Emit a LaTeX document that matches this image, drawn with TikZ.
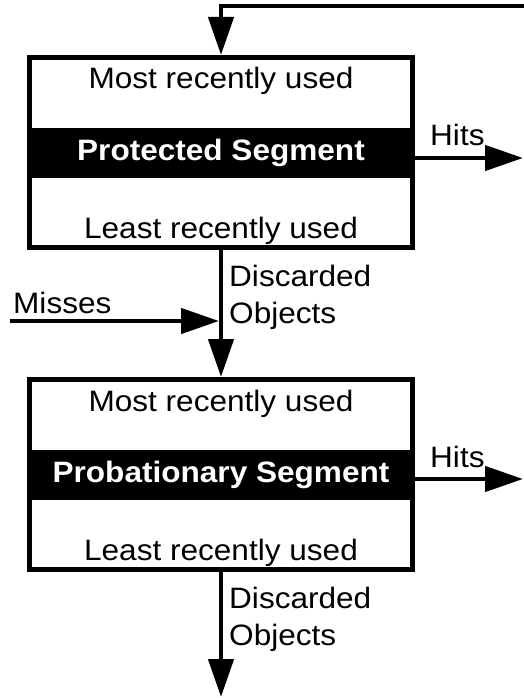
\documentclass[tikz,border=0pt]{standalone}
\usepackage{fontspec}
\setmainfont{Liberation Sans}[FakeStretch=1.07]
\usetikzlibrary{arrows.meta,calc}
\begin{document}
\begin{tikzpicture}[x=1pt,y=-1pt,
  txt/.style={font=\fontsize{29.5}{37}\selectfont, inner sep=0pt},
  seg/.style={draw, line width=5pt, minimum width=383pt, minimum height=190pt, inner sep=0pt},
  band/.style={fill=black, text=white, font=\fontsize{29.5}{37}\selectfont\bfseries,
               minimum width=383pt, minimum height=50pt, inner sep=0pt},
  flow/.style={line width=4.5pt, -{Triangle[length=38pt,width=25pt]}}
]
\useasboundingbox (0,0) rectangle (523,698);

% protected segment
\node[seg] (prot) at (221,152.5) {};
\node[band] (protband) at (221,153) {Protected Segment};
\node[txt, anchor=base] (protmru) at (221,89) {Most recently used};
\node[txt, anchor=base] (protlru) at (221,238) {Least recently used};

% probationary segment
\node[seg] (prob) at (221,474.5) {};
\node[band] (probband) at (221,475) {Probationary Segment};
\node[txt, anchor=base] (probmru) at (221,411) {Most recently used};
\node[txt, anchor=base] (problru) at (221,560) {Least recently used};

% loose ends of the connectors
\coordinate (loopin) at (535,6);
\coordinate (loopcorner) at (221,6);
\coordinate (hitsout1) at (523,158);
\coordinate (hitsout2) at (523,479);
\coordinate (missin) at (10,321);
\coordinate (missjoin) at (219,321);
\coordinate (discardout) at (221,697);

% hits feed back into the protected segment
\draw[flow] (loopin) -- (loopcorner) -- (prot.north);

% hits leaving each segment
\draw[flow] (hitsout1 -| prot.east) -- (hitsout1);
\node[txt, anchor=base west] (hitslbl1) at (430,146) {Hits};
\draw[flow] (hitsout2 -| prob.east) -- (hitsout2);
\node[txt, anchor=base west] (hitslbl2) at (430,467) {Hits};

% objects pushed out of the protected segment
\draw[flow] (prot.south) -- (prob.north);
\node[txt, anchor=base west] (disc1a) at (229,286) {Discarded};
\node[txt, anchor=base west] (disc1b) at (229,323) {Objects};

% misses enter the probationary segment
\draw[flow] (missin) -- (missjoin);
\node[txt, anchor=base west] (misslbl) at (13,313) {Misses};

% objects pushed out of the probationary segment
\draw[flow] (prob.south) -- (discardout);
\node[txt, anchor=base west] (disc2a) at (229,608) {Discarded};
\node[txt, anchor=base west] (disc2b) at (229,645) {Objects};
\end{tikzpicture}
\end{document}
